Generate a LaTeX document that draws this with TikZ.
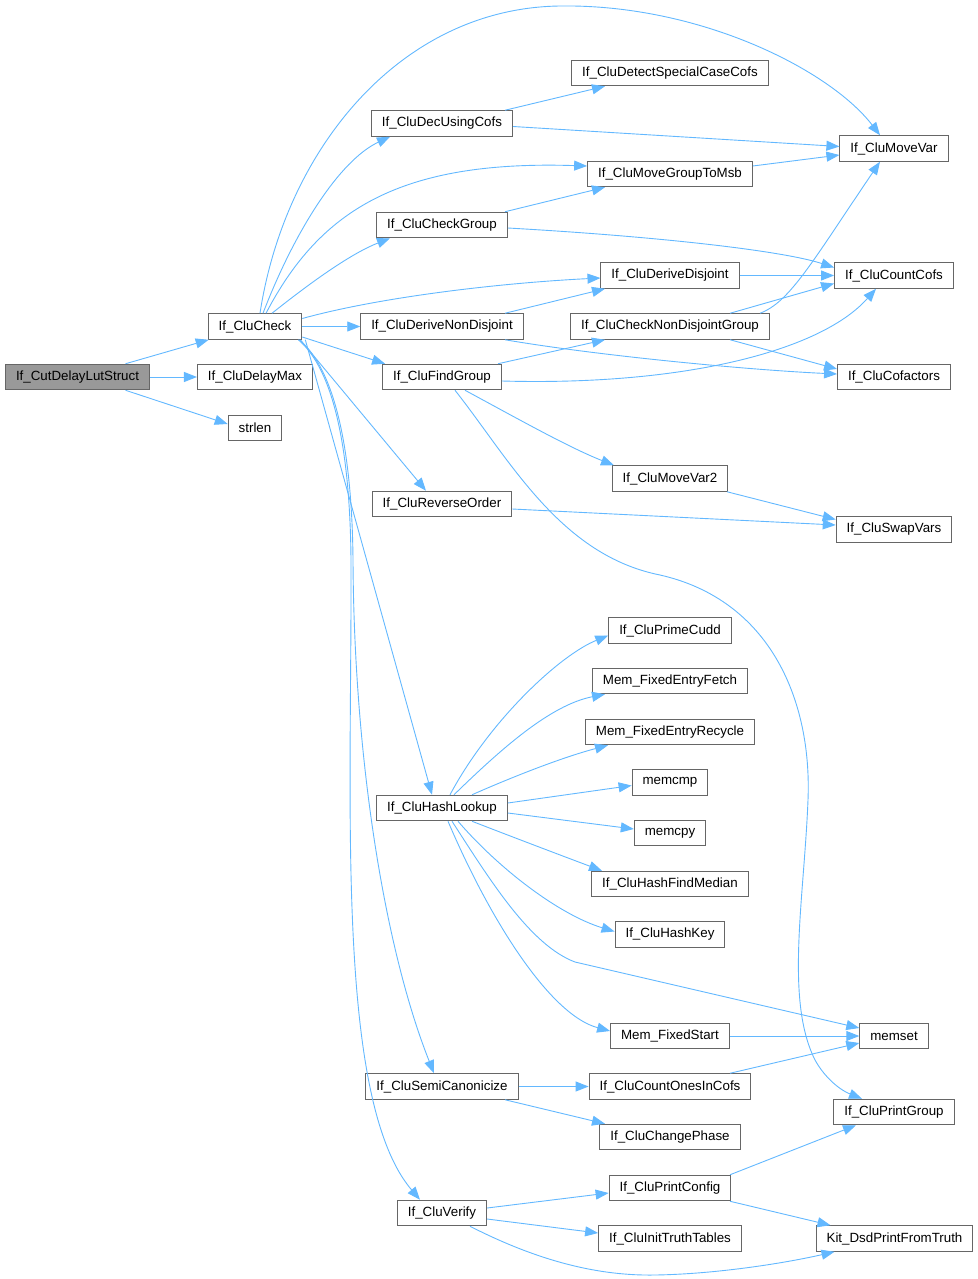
\documentclass[tikz,border=0pt]{standalone}
\usepackage{fontspec}
\setmainfont{Liberation Sans}
\usetikzlibrary{arrows.meta}
\definecolor{edgeblue}{HTML}{63B8FF}
\definecolor{boxgray}{HTML}{666666}
\definecolor{rootgray}{HTML}{999999}
\begin{document}
\begin{tikzpicture}[x=1pt, y=-1pt,
	every node/.style={font=\fontsize{13.33}{16}\selectfont},
	fn/.style={draw=boxgray, line width=1pt, fill=white, minimum height=25.5pt, inner xsep=10.5pt, inner ysep=0pt, anchor=center},
	root/.style={fn, fill=rootgray},
	call/.style={draw=edgeblue, line width=0.9pt, -{Triangle[length=13pt, width=10pt]}}]
	\useasboundingbox (0,0) rectangle (977,1279);
	\node[root] (cut) at (77.5,377) {If\_CutDelayLutStruct};
	\node[fn] (check) at (255,326.5) {If\_CluCheck};
	\node[fn] (delaymax) at (255,377) {If\_CluDelayMax};
	\node[fn] (strlen) at (255,428) {strlen};
	\node[fn] (decusing) at (442,123.5) {If\_CluDecUsingCofs};
	\node[fn] (checkgroup) at (442,225) {If\_CluCheckGroup};
	\node[fn] (dernon) at (442,326.5) {If\_CluDeriveNonDisjoint};
	\node[fn] (findgroup) at (442,377) {If\_CluFindGroup};
	\node[fn] (reverse) at (442,504) {If\_CluReverseOrder};
	\node[fn] (hashlookup) at (442,808) {If\_CluHashLookup};
	\node[fn] (semican) at (442,1086.5) {If\_CluSemiCanonicize};
	\node[fn] (verify) at (442,1213) {If\_CluVerify};
	\node[fn] (detect) at (670,73) {If\_CluDetectSpecialCaseCofs};
	\node[fn] (mvgroup) at (670,174) {If\_CluMoveGroupToMsb};
	\node[fn] (derdis) at (670,275.5) {If\_CluDeriveDisjoint};
	\node[fn] (cndg) at (670,326.5) {If\_CluCheckNonDisjointGroup};
	\node[fn] (movevar2) at (670,478.5) {If\_CluMoveVar2};
	\node[fn] (primecudd) at (670,630.5) {If\_CluPrimeCudd};
	\node[fn] (fetch) at (670,681) {Mem\_FixedEntryFetch};
	\node[fn] (recycle) at (670,732) {Mem\_FixedEntryRecycle};
	\node[fn] (memcmp) at (670,782.5) {memcmp};
	\node[fn] (memcpy) at (670,833) {memcpy};
	\node[fn] (median) at (670,884) {If\_CluHashFindMedian};
	\node[fn] (hashkey) at (670,934.5) {If\_CluHashKey};
	\node[fn] (fixedstart) at (670,1036) {Mem\_FixedStart};
	\node[fn] (countones) at (670,1086.5) {If\_CluCountOnesInCofs};
	\node[fn] (chphase) at (670,1137) {If\_CluChangePhase};
	\node[fn] (pconfig) at (670,1188) {If\_CluPrintConfig};
	\node[fn] (inittt) at (670,1238.5) {If\_CluInitTruthTables};
	\node[fn] (movevar) at (894,148.5) {If\_CluMoveVar};
	\node[fn] (countcofs) at (894,275.5) {If\_CluCountCofs};
	\node[fn] (cofactors) at (894,377) {If\_CluCofactors};
	\node[fn] (swapvars) at (894,529.5) {If\_CluSwapVars};
	\node[fn] (memset) at (894,1036) {memset};
	\node[fn] (pgroup) at (894,1112) {If\_CluPrintGroup};
	\node[fn] (dsdprint) at (894.5,1238.5) {Kit\_DsdPrintFromTruth};

	\draw[call] ([xshift=48pt]cut.north) -- ([xshift=1pt]check.south west);
	\draw[call] (cut) -- (delaymax);
	\draw[call] ([xshift=48pt]cut.south) -- ([yshift=4pt]strlen.west);

	\draw[call] ([xshift=5pt]check.north) .. controls (285,150) and (400,8) .. (560,6) .. controls (700,4) and (830,70) .. ([xshift=-14pt]movevar.north);
	\draw[call] ([xshift=8pt]check.north) .. controls (295,230) and (340,160) .. ([xshift=-52pt]decusing.south);
	\draw[call] ([xshift=11pt]check.north) .. controls (320,210) and (400,160) .. ([yshift=8pt]mvgroup.west);
	\draw[call] ([xshift=17pt]check.north) .. controls (320,275) and (355,252) .. ([xshift=-52pt]checkgroup.south);
	\draw[call] ([yshift=8pt]check.east) .. controls (380,297) and (500,283) .. ([yshift=-2.5pt]derdis.west);
	\draw[call] (check) -- (dernon);
	\draw[call] ([yshift=-10.5pt]check.east) -- ([xshift=3pt]findgroup.north west);
	\draw[call] ([xshift=-2pt]check.south east) -- ([xshift=-16pt]reverse.north);
	\draw[call] ([xshift=3pt]check.south east) -- ([xshift=-10pt]hashlookup.north);
	\draw[call] ([xshift=-3pt]check.south east) .. controls (335,370) and (352,450) .. (353,560) .. controls (354,760) and (385,950) .. ([xshift=-8pt]semican.north);
	\draw[call] ([xshift=-4pt]check.south east) .. controls (334,370) and (350,450) .. (351,560) .. controls (352,800) and (335,1100) .. ([xshift=-22pt]verify.north);

	\draw[call] ([xshift=63pt]decusing.north) -- ([xshift=-65pt]detect.south);
	\draw[call] ([yshift=-3pt]decusing.east) -- ([yshift=2pt]movevar.west);
	\draw[call] ([yshift=8pt]mvgroup.east) -- ([yshift=-6.5pt]movevar.west);
	\draw[call] ([xshift=63pt]checkgroup.north) -- ([xshift=-65pt]mvgroup.south);
	\draw[call] ([yshift=-3pt]checkgroup.east) .. controls (650,236) and (780,250) .. ([yshift=8pt]countcofs.west);
	\draw[call] (derdis) -- (countcofs);
	\draw[call] ([xshift=63pt]dernon.north) -- ([xshift=-65pt]derdis.south);
	\draw[call] ([xshift=63pt]dernon.south) .. controls (600,356) and (750,370) .. ([yshift=3pt]cofactors.west);
	\draw[call] ([xshift=60pt]cndg.north) -- ([yshift=-8pt]countcofs.west);
	\draw[call] ([xshift=90pt]cndg.north) .. controls (790,302) and (812,262) .. ([xshift=-14pt]movevar.south);
	\draw[call] ([xshift=60pt]cndg.south) -- ([yshift=8pt]cofactors.west);
	\draw[call] ([xshift=56pt]findgroup.north) -- ([xshift=-65pt]cndg.south);
	\draw[call] ([yshift=-4pt]findgroup.east) .. controls (680,386) and (820,352) .. ([xshift=-18pt]countcofs.south);
	\draw[call] ([xshift=23pt]findgroup.south) .. controls (520,420) and (570,448) .. ([xshift=-56pt]movevar2.north);
	\draw[call] ([xshift=13pt]findgroup.south) .. controls (510,460) and (560,555) .. (660,575) .. controls (770,600) and (812,700) .. (808,800) .. controls (804,900) and (785,1000) .. (815,1060) .. controls (825,1078) and (840,1090) .. ([xshift=-32pt]pgroup.north);
	\draw[call] ([yshift=-5pt]reverse.east) -- ([yshift=4.5pt]swapvars.west);
	\draw[call] ([xshift=57pt]movevar2.south) -- ([yshift=10pt]swapvars.west);

	\draw[call] ([xshift=8pt]hashlookup.north) .. controls (490,720) and (560,655) .. ([yshift=-5pt]primecudd.west);
	\draw[call] ([xshift=12pt]hashlookup.north) .. controls (500,750) and (550,705) .. ([xshift=-65pt]fetch.south);
	\draw[call] ([xshift=30pt]hashlookup.north) .. controls (510,778) and (560,758) .. ([xshift=-62pt]recycle.south);
	\draw[call] ([yshift=5pt]hashlookup.east) -- ([yshift=-3pt]memcmp.west);
	\draw[call] ([yshift=-5pt]hashlookup.east) -- ([yshift=4pt]memcpy.west);
	\draw[call] ([xshift=30pt]hashlookup.south) .. controls (510,836) and (560,855) .. ([xshift=-68pt]median.north);
	\draw[call] ([xshift=16pt]hashlookup.south) .. controls (500,870) and (560,915) .. ([yshift=3pt]hashkey.west);
	\draw[call] ([xshift=10pt]hashlookup.south) .. controls (490,880) and (530,945) .. (575,962) -- ([yshift=8pt]memset.west);
	\draw[call] ([xshift=6pt]hashlookup.south) .. controls (490,920) and (550,1015) .. ([yshift=5pt]fixedstart.west);
	\draw[call] (fixedstart) -- (memset);

	\draw[call] (semican) -- (countones);
	\draw[call] ([xshift=63pt]semican.south) -- ([xshift=-65pt]chphase.north);
	\draw[call] ([xshift=60pt]countones.north) -- ([yshift=-7pt]memset.west);
	\draw[call] ([xshift=60pt]pconfig.north) -- ([xshift=-38pt]pgroup.south);
	\draw[call] ([xshift=60pt]pconfig.south) -- ([xshift=-64pt]dsdprint.north);
	\draw[call] ([yshift=5pt]verify.east) -- ([yshift=-5pt]pconfig.west);
	\draw[call] ([yshift=-6pt]verify.east) -- ([yshift=5.5pt]inittt.west);
	\draw[call] ([xshift=28pt]verify.south) .. controls (540,1262) and (600,1276) .. (655,1275) .. controls (720,1274) and (790,1262) .. ([xshift=-60pt]dsdprint.south);
\end{tikzpicture}
\end{document}
